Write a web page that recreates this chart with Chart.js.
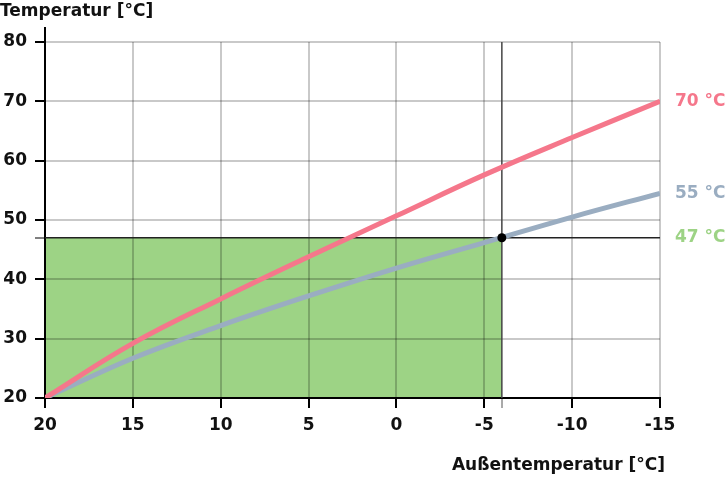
<!DOCTYPE html>
<html>
<head>
<meta charset="utf-8">
<script src="https://cdn.jsdelivr.net/npm/chart.js@4/dist/chart.umd.min.js"></script>
<style>
  html, body { margin: 0; padding: 0; background: #fff; }
  #wrap { width: 728px; height: 486px; }
</style>
</head>
<body>
<div id="wrap"><canvas id="chart" width="728" height="486"></canvas></div>
<script>
// Heating curve chart: flow temperature vs. outdoor temperature

const xTicks = [20, 15, 10, 5, 0, -5, -10, -15];
const yTicks = [20, 30, 40, 50, 60, 70, 80];

// outdoor temperatures the curves are read at
const outdoorTemps = [20, 15, 10, 5, 0, -5, -10, -15];
// 70 °C curve
const flow70 = [20, 29.2, 36.7, 43.8, 50.7, 57.6, 63.9, 70];
// 55 °C curve
const flow55 = [20, 26.7, 32.2, 37.2, 41.9, 46.2, 50.5, 54.5];

// design point
const designOutdoor = -6;
const designFlow = 47;

const endLabels = ['70 °C', '55 °C'];
const designLabel = '47 °C';
const yTitle = 'Temperatur [°C]';
const xTitle = 'Außentemperatur [°C]';

const RED = '#f5778b';
const BLUE = '#9aadc1';
const GREEN = '#9dd385';
const FONT = '"DejaVu Sans", sans-serif';
const GRID = 'rgba(0,0,0,0.21)';

const toPoints = (xs, ys) => xs.map((x, i) => ({ x, y: ys[i] }));

// green area under the design point, painted before the grid
const designArea = {
  id: 'designArea',
  beforeDraw(chart) {
    const { ctx, scales: { x, y } } = chart;
    const x0 = x.getPixelForValue(x.max), x1 = x.getPixelForValue(designOutdoor);
    const y0 = y.getPixelForValue(y.min), y1 = y.getPixelForValue(designFlow);
    ctx.save();
    ctx.fillStyle = GREEN;
    ctx.fillRect(x0, y1, x1 - x0, y0 - y1);
    ctx.restore();
  }
};

// texts: axis titles and labels at the right end of the lines
const textLabels = {
  id: 'textLabels',
  afterDraw(chart) {
    const { ctx, chartArea, scales: { y } } = chart;
    ctx.save();
    // y axis runs a little above the top tick
    ctx.strokeStyle = '#000';
    ctx.lineWidth = 2;
    ctx.beginPath();
    ctx.moveTo(chartArea.left, chartArea.top);
    ctx.lineTo(chartArea.left, chartArea.top - 15);
    ctx.stroke();

    ctx.font = 'bold 17px ' + FONT;
    ctx.fillStyle = '#111';
    ctx.textBaseline = 'middle';
    ctx.textAlign = 'left';
    ctx.fillText(yTitle, 0, 12);
    ctx.textAlign = 'right';
    ctx.fillText(xTitle, 665, 466);

    ctx.textAlign = 'left';
    const lx = chartArea.right + 15;
    [[flow70, RED, endLabels[0]], [flow55, BLUE, endLabels[1]], [[designFlow], GREEN, designLabel]]
      .forEach(([vals, col, txt]) => {
        ctx.fillStyle = col;
        ctx.fillText(txt, lx, y.getPixelForValue(vals[vals.length - 1]));
      });
    ctx.restore();
  }
};

const isSpecial = (ctx, v) => ctx.tick && ctx.tick.value === v;

new Chart(document.getElementById('chart'), {
  type: 'line',
  data: {
    datasets: [
      {
        data: [{ x: designOutdoor, y: designFlow }],
        showLine: false, pointRadius: 4.5, pointBackgroundColor: '#000', pointBorderWidth: 0
      },
      {
        data: toPoints(outdoorTemps, flow70),
        borderColor: RED, borderWidth: 5, pointRadius: 0, tension: 0.4
      },
      {
        data: toPoints(outdoorTemps, flow55),
        borderColor: BLUE, borderWidth: 5, pointRadius: 0, tension: 0.4
      },
      {
        data: [{ x: designOutdoor, y: yTicks[0] }, { x: designOutdoor, y: yTicks[yTicks.length - 1] }],
        borderColor: '#444', borderWidth: 1.5, pointRadius: 0
      },
      {
        data: [{ x: xTicks[0], y: designFlow }, { x: xTicks[xTicks.length - 1], y: designFlow }],
        borderColor: '#222', borderWidth: 1.5, pointRadius: 0
      }
    ]
  },
  options: {
    responsive: false,
    animation: false,
    layout: { padding: { top: 42, right: 68, left: 0, bottom: 0 } },
    plugins: { legend: { display: false }, tooltip: { enabled: false } },
    scales: {
      x: {
        type: 'linear', reverse: true,
        min: xTicks[xTicks.length - 1], max: xTicks[0],
        afterBuildTicks: s => { s.ticks = xTicks.concat([designOutdoor]).map(v => ({ value: v })); },
        afterFit: s => { s.height = 88; },
        border: { color: '#000', width: 2 },
        grid: {
          color: c => isSpecial(c, designOutdoor) ? 'rgba(0,0,0,0)' : GRID,
          lineWidth: 2,
          tickLength: 10,
          tickColor: c => isSpecial(c, designOutdoor) ? '#555' : '#000',
          tickWidth: c => isSpecial(c, designOutdoor) ? 1 : 2
        },
        ticks: {
          autoSkip: false, maxRotation: 0, padding: 7, color: '#111',
          font: { family: FONT, size: 17, weight: 'bold' },
          callback: v => v === designOutdoor ? '' : String(v)
        }
      },
      y: {
        min: yTicks[0], max: yTicks[yTicks.length - 1],
        afterBuildTicks: s => { s.ticks = yTicks.concat([designFlow]).map(v => ({ value: v })); },
        afterFit: s => { s.width = 45; },
        border: { color: '#000', width: 2 },
        grid: {
          color: c => isSpecial(c, designFlow) ? 'rgba(0,0,0,0)' : GRID,
          lineWidth: 2,
          tickLength: 10,
          tickColor: '#000',
          tickWidth: c => isSpecial(c, designFlow) ? 1 : 2
        },
        ticks: {
          autoSkip: false, padding: 8, color: '#111',
          font: { family: FONT, size: 17, weight: 'bold' },
          callback: v => v === designFlow ? '' : String(v)
        }
      }
    }
  },
  plugins: [designArea, textLabels]
});
</script>
</body>
</html>
